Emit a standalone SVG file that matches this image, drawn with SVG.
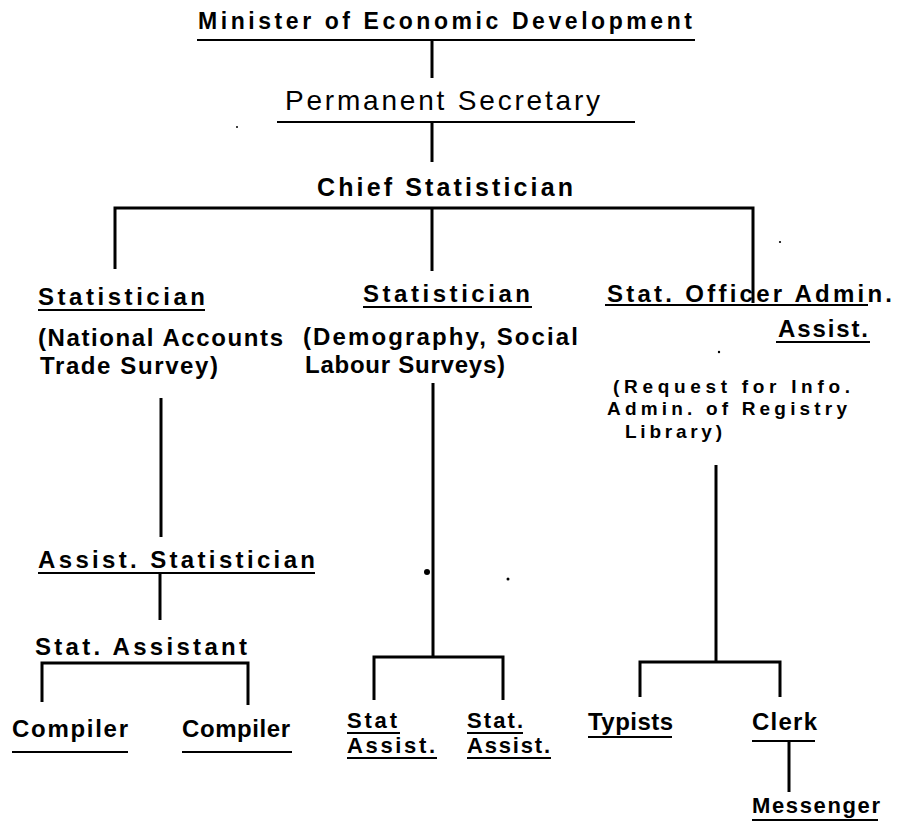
<svg xmlns="http://www.w3.org/2000/svg" width="897" height="827" viewBox="0 0 897 827">
<style>
.t{font-family:"Liberation Sans",Arial,Helvetica,sans-serif;fill:#000;font-size:24px}
.b{font-weight:bold}
.s19{font-size:19px}
.s23{font-size:23px}
.s22{font-size:22px}
.s25{font-size:25px}
.s28{font-size:28px}
.ul{stroke:#000;stroke-width:2.2;fill:none}
.ln{stroke:#000;stroke-width:3;fill:none}
</style>
<rect width="897" height="827" fill="#fff"/>
<g id="connectors" class="ln">
<path d="M432 40V78"/>
<path d="M432 122V162"/>
<path d="M115 269V208H753V303"/>
<path d="M432 208V271"/>
<path d="M161 398V537"/>
<path d="M160 573V620"/>
<path d="M42 702V663H248V705"/>
<path d="M433 383V657"/>
<path d="M374 700V657H503V700"/>
<path d="M716 465V662"/>
<path d="M640 697V662H780V697"/>
<path d="M789 741V792"/>
</g>
<g id="minister">
<text class="t b s23" x="198" y="29" textLength="494">Minister of Economic Development</text>
<path class="ul" d="M197 40H695"/>
</g>
<g id="permanent-secretary">
<text class="t s28" x="285" y="110" textLength="315">Permanent Secretary</text>
<path class="ul" d="M277 122H635"/>
</g>
<g id="chief-statistician">
<text class="t b s25" x="317" y="196" textLength="256">Chief Statistician</text>
</g>
<g id="statistician-1">
<text class="t b" x="38" y="305" textLength="167">Statistician</text>
<path class="ul" d="M38 310H205"/>
<text class="t b" x="38" y="346" textLength="245">(National Accounts</text>
<text class="t b" x="40" y="374" textLength="178">Trade Survey)</text>
</g>
<g id="statistician-2">
<text class="t b" x="363" y="302" textLength="167">Statistician</text>
<path class="ul" d="M363 307H532"/>
<text class="t b" x="303" y="345" textLength="275">(Demography, Social</text>
<text class="t b" x="305" y="373" textLength="200">Labour Surveys)</text>
</g>
<g id="stat-officer">
<text class="t b" x="607" y="302" textLength="285">Stat. Officer Admin.</text>
<path class="ul" d="M605 305H868"/>
<text class="t b" x="778" y="337" textLength="90">Assist.</text>
<path class="ul" d="M776 342H870"/>
<text class="t b s19" x="613" y="393" textLength="237">(Request for Info.</text>
<text class="t b s19" x="607" y="415" textLength="240">Admin. of Registry</text>
<text class="t b s19" x="625" y="438" textLength="97">Library)</text>
</g>
<g id="assist-statistician">
<text class="t b" x="38" y="568" textLength="277">Assist. Statistician</text>
<path class="ul" d="M38 573H315"/>
</g>
<g id="stat-assistant">
<text class="t b" x="35" y="655" textLength="212">Stat. Assistant</text>
</g>
<g id="compiler-1">
<text class="t b" x="12" y="737" textLength="116">Compiler</text>
<path class="ul" d="M12 752H128"/>
</g>
<g id="compiler-2">
<text class="t b" x="182" y="737" textLength="108">Compiler</text>
<path class="ul" d="M182 752H292"/>
</g>
<g id="stat-assist-1">
<text class="t b s22" x="347" y="728" textLength="50">Stat</text>
<path class="ul" d="M347 733H400"/>
<text class="t b s22" x="347" y="753" textLength="88">Assist.</text>
<path class="ul" d="M347 758H437"/>
</g>
<g id="stat-assist-2">
<text class="t b s22" x="467" y="728" textLength="56">Stat.</text>
<path class="ul" d="M467 733H523"/>
<text class="t b s22" x="467" y="753" textLength="83">Assist.</text>
<path class="ul" d="M467 758H551"/>
</g>
<g id="typists">
<text class="t b" x="588" y="730" textLength="85">Typists</text>
<path class="ul" d="M588 737H672"/>
</g>
<g id="clerk">
<text class="t b" x="752" y="730" textLength="65">Clerk</text>
<path class="ul" d="M752 741H815"/>
</g>
<g id="messenger">
<text class="t b s22" x="752" y="813" textLength="128">Messenger</text>
<path class="ul" d="M752 820H878"/>
</g>
<g id="specks" fill="#000">
<circle cx="427" cy="572" r="3"/>
<circle cx="508" cy="579" r="1.5"/>
<circle cx="719" cy="352" r="1.2"/>
<circle cx="780" cy="242" r="1.1"/>
<circle cx="237" cy="127" r="1"/>
</g>
</svg>
